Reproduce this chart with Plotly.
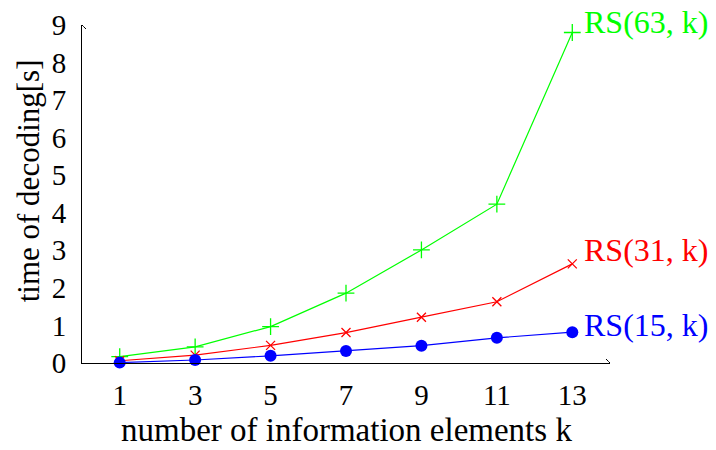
import plotly.graph_objects as go

k = [1, 3, 5, 7, 9, 11, 13]
rs63 = [0.17, 0.43, 0.97, 1.86, 3.01, 4.23, 8.80]
rs31 = [0.06, 0.21, 0.47, 0.81, 1.22, 1.63, 2.64]
rs15 = [0.01, 0.08, 0.19, 0.32, 0.46, 0.67, 0.82]
x_ticks = [1, 3, 5, 7, 9, 11, 13]
y_ticks = [0, 1, 2, 3, 4, 5, 6, 7, 8, 9]
labels = ["RS(63, k)", "RS(31, k)", "RS(15, k)"]
x_title = "number of information elements k"
y_title = "time of decoding[s]"

FONT = "Liberation Serif"
GREEN = "#00ff00"
RED = "#ff0000"
BLUE = "#0000ff"

fig = go.Figure()
fig.add_trace(go.Scatter(x=k, y=rs63, mode="lines+markers",
                         line=dict(color=GREEN, width=1.2),
                         marker=dict(symbol="cross-thin", size=12,
                                     line=dict(color=GREEN, width=1.3)),
                         cliponaxis=False))
fig.add_trace(go.Scatter(x=k, y=rs31, mode="lines+markers",
                         line=dict(color=RED, width=1.2),
                         marker=dict(symbol="x-thin", size=9,
                                     line=dict(color=RED, width=1.3)),
                         cliponaxis=False))
fig.add_trace(go.Scatter(x=k, y=rs15, mode="lines+markers",
                         line=dict(color=BLUE, width=1.2),
                         marker=dict(symbol="circle", size=12, color=BLUE),
                         cliponaxis=False))

series_end = [rs63[-1], rs31[-1], rs15[-1]]
shifts = [11, 14, 7]
colors = [GREEN, RED, BLUE]
for lab, ly, sh, c in zip(labels, series_end, shifts, colors):
    fig.add_annotation(x=k[-1], y=ly, text=lab, showarrow=False,
                       xanchor="left", yanchor="middle", xshift=10, yshift=sh,
                       font=dict(family=FONT, size=32, color=c))

fig.add_annotation(xref="paper", yref="paper", x=0.501, y=-0.2544, text=x_title,
                   showarrow=False, xanchor="center", yanchor="bottom", borderpad=0,
                   font=dict(family=FONT, size=33, color="black"))
fig.add_annotation(xref="paper", yref="paper", x=-0.102, y=0.538, text=y_title,
                   showarrow=False, xanchor="center", yanchor="middle", textangle=-90,
                   font=dict(family=FONT, size=31, color="black"))

# arrowheads (open, LaTeX style)
fig.add_shape(type="path", xref="x", yref="y", xsizemode="pixel", ysizemode="pixel",
              xanchor=14, yanchor=0, path="M -4,4 Q -1,1 0,0 Q -1,-1 -4,-4",
              line=dict(color="black", width=1))
fig.add_shape(type="path", xref="x", yref="y", xsizemode="pixel", ysizemode="pixel",
              xanchor=0, yanchor=9, path="M -4,-4 Q -1,-1 0,0 Q 1,-1 4,-4",
              line=dict(color="black", width=1))

fig.update_layout(
    width=716, height=450,
    margin=dict(l=82, r=106, t=25, b=87, autoexpand=False),
    plot_bgcolor="white", paper_bgcolor="white",
    showlegend=False,
    font=dict(family=FONT, size=29, color="black"),
)
fig.update_xaxes(range=[0, 14], tickvals=x_ticks, showgrid=False, zeroline=False,
                 showline=True, linecolor="black", linewidth=1, ticks="",
                 ticklabelstandoff=6, automargin=False,
                 tickfont=dict(family=FONT, size=29))
fig.update_yaxes(range=[0, 9], tickvals=y_ticks, showgrid=False, zeroline=False,
                 showline=True, linecolor="black", linewidth=1, ticks="",
                 ticklabelstandoff=9, automargin=False,
                 tickfont=dict(family=FONT, size=29))

fig.write_html("out.html", config={"displayModeBar": False},
               post_script="document.body.style.margin='0';document.body.style.padding='0';")
